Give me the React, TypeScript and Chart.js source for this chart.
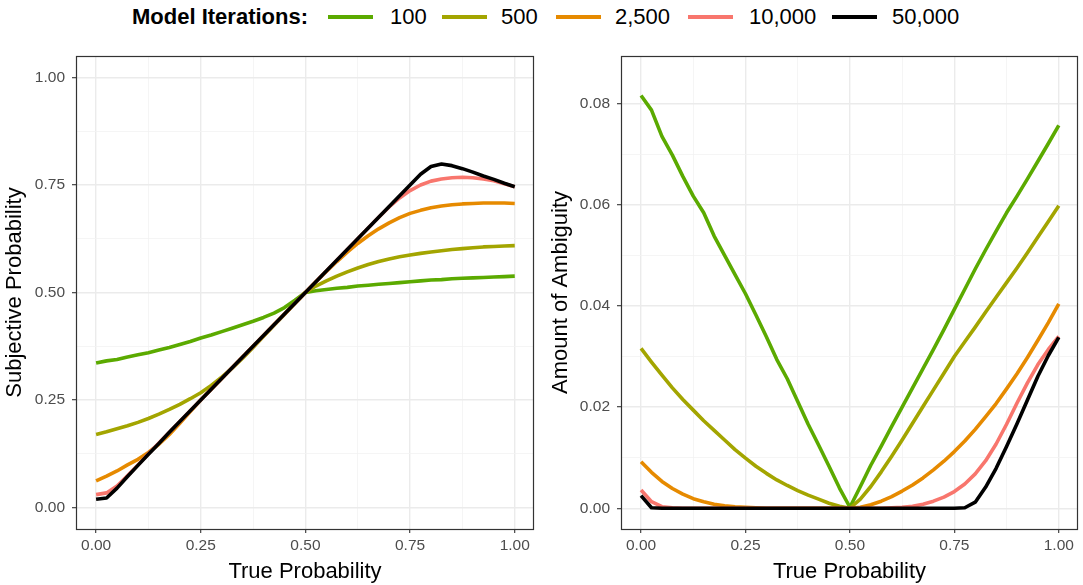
import React, { useEffect, useRef } from "react";
import { Chart, registerables } from "chart.js";

Chart.register(...registerables);

// ---------- data ----------
const trueProb = [
  0, 0.025, 0.05, 0.075, 0.1, 0.125, 0.15, 0.175, 0.2, 0.225, 0.25, 0.275, 0.3, 0.325, 0.35, 0.375, 0.4,
  0.425, 0.45, 0.475, 0.5, 0.525, 0.55, 0.575, 0.6, 0.625, 0.65, 0.675, 0.7, 0.725, 0.75, 0.775, 0.8,
  0.825, 0.85, 0.875, 0.9, 0.925, 0.95, 0.975, 1,
];

const seriesLabels = ["100", "500", "2,500", "10,000", "50,000"];
const seriesColors = ["#5BAA00", "#A3A500", "#E68A00", "#F8766D", "#000000"];

// Subjective probability (left panel)
const subj100 = [
  0.336, 0.341, 0.344, 0.35, 0.355, 0.36, 0.366, 0.372, 0.379, 0.386, 0.394, 0.401, 0.409, 0.417, 0.425,
  0.433, 0.442, 0.452, 0.465, 0.482, 0.5, 0.504, 0.507, 0.51, 0.512, 0.515, 0.517, 0.519, 0.521, 0.523,
  0.525, 0.527, 0.529, 0.53, 0.532, 0.533, 0.534, 0.535, 0.536, 0.537, 0.538,
];
const subj500 = [
  0.17, 0.176, 0.183, 0.19, 0.198, 0.207, 0.217, 0.228, 0.24, 0.253, 0.267, 0.284, 0.303, 0.324, 0.347,
  0.372, 0.398, 0.424, 0.449, 0.475, 0.5, 0.515, 0.527, 0.538, 0.548, 0.557, 0.565, 0.572, 0.578, 0.583,
  0.587, 0.591, 0.594, 0.597, 0.6, 0.602, 0.604, 0.606, 0.607, 0.608, 0.609,
];
const subj2500 = [
  0.062, 0.073, 0.085, 0.099, 0.112, 0.128, 0.147, 0.17, 0.196, 0.223, 0.25, 0.275, 0.3, 0.325, 0.35,
  0.375, 0.4, 0.425, 0.45, 0.475, 0.5, 0.525, 0.549, 0.572, 0.594, 0.614, 0.632, 0.648, 0.662, 0.674,
  0.684, 0.691, 0.697, 0.701, 0.704, 0.706, 0.707, 0.708, 0.708, 0.708, 0.707,
];
const subj10000 = [
  0.03, 0.034, 0.05, 0.074, 0.099, 0.125, 0.15, 0.175, 0.2, 0.225, 0.25, 0.275, 0.3, 0.325, 0.35,
  0.375, 0.4, 0.425, 0.45, 0.475, 0.5, 0.525, 0.55, 0.575, 0.6, 0.625, 0.65, 0.675, 0.699, 0.72,
  0.737, 0.75, 0.759, 0.764, 0.767, 0.768, 0.767, 0.764, 0.76, 0.753, 0.746,
];
const subj50000 = [
  0.019, 0.022, 0.045, 0.072, 0.098, 0.124, 0.149, 0.175, 0.2, 0.225, 0.25, 0.275, 0.3, 0.325, 0.35,
  0.375, 0.4, 0.425, 0.45, 0.475, 0.5, 0.525, 0.55, 0.575, 0.6, 0.625, 0.65, 0.675, 0.7, 0.725,
  0.75, 0.775, 0.793, 0.799, 0.795, 0.788, 0.78, 0.771, 0.763, 0.754, 0.746,
];

// Amount of ambiguity (right panel)
const amb100 = [
  0.0816, 0.0787, 0.0735, 0.0698, 0.0656, 0.0617, 0.0584, 0.0538, 0.05, 0.0462, 0.0424, 0.0382, 0.0339,
  0.0294, 0.0256, 0.0211, 0.0166, 0.0125, 0.0083, 0.004, 0.0002, 0.0043, 0.0085, 0.0123, 0.0162, 0.02,
  0.0238, 0.0276, 0.0314, 0.0353, 0.0393, 0.0433, 0.0473, 0.0511, 0.0548, 0.0584, 0.0617, 0.0651, 0.0686,
  0.0721, 0.0757,
];
const amb500 = [
  0.0316, 0.0289, 0.0263, 0.0238, 0.0215, 0.0194, 0.0173, 0.0154, 0.0135, 0.0116, 0.0099, 0.0083, 0.0069,
  0.0056, 0.0045, 0.0035, 0.0026, 0.0018, 0.001, 0.0004, 0.0, 0.0018, 0.0043, 0.0072, 0.0103, 0.0135,
  0.0168, 0.0201, 0.0234, 0.0267, 0.03, 0.0329, 0.0358, 0.0388, 0.0417, 0.0446, 0.0475, 0.0505, 0.0536,
  0.0567, 0.0598,
];
const amb2500 = [
  0.0092, 0.0071, 0.0053, 0.0039, 0.0028, 0.0019, 0.0013, 0.0008, 0.0005, 0.0003, 0.0002, 0.0001, 0.0,
  0.0, 0.0, 0.0, 0.0, 0.0, 0.0, 0.0, 0.0, 0.0002, 0.0007, 0.0014, 0.0023, 0.0034, 0.0046, 0.006, 0.0076,
  0.0093, 0.0112, 0.0133, 0.0156, 0.0181, 0.0207, 0.0236, 0.0266, 0.0298, 0.0332, 0.0367, 0.0404,
];
const amb10000 = [
  0.0036, 0.0013, 0.0003, 0.0001, 0.0, 0.0, 0.0, 0.0, 0.0, 0.0, 0.0, 0.0, 0.0, 0.0, 0.0, 0.0, 0.0, 0.0,
  0.0, 0.0, 0.0, 0.0, 0.0, 0.0, 0.0001, 0.0002, 0.0004, 0.0008, 0.0014, 0.0022, 0.0033, 0.0048, 0.0068,
  0.0094, 0.0127, 0.0166, 0.0208, 0.0248, 0.0284, 0.0314, 0.034,
];
const amb50000 = [
  0.0025, 0.0001, 0.0, 0.0, 0.0, 0.0, 0.0, 0.0, 0.0, 0.0, 0.0, 0.0, 0.0, 0.0, 0.0, 0.0, 0.0, 0.0, 0.0,
  0.0, 0.0, 0.0, 0.0, 0.0, 0.0, 0.0, 0.0, 0.0, 0.0, 0.0, 0.0, 0.0001, 0.0012, 0.0042, 0.0079, 0.0122,
  0.0167, 0.0214, 0.0261, 0.0302, 0.0338,
];

// tick positions (major + minor grid)
const xTicks = [0, 0.125, 0.25, 0.375, 0.5, 0.625, 0.75, 0.875, 1];
const xMajor = [0, 0.25, 0.5, 0.75, 1];
const leftYTicks = [0, 0.125, 0.25, 0.375, 0.5, 0.625, 0.75, 0.875, 1];
const leftYMajor = [0, 0.25, 0.5, 0.75, 1];
const rightYTicks = [0, 0.01, 0.02, 0.03, 0.04, 0.05, 0.06, 0.07, 0.08];
const rightYMajor = [0, 0.02, 0.04, 0.06, 0.08];

const FONT = "'Liberation Sans', Arial, Helvetica, sans-serif";

const isIn = (v: number | undefined, list: number[]) =>
  v !== undefined && list.some((m) => Math.abs(m - v) < 1e-9);

const panelBorder = {
  id: "panelBorder",
  afterDraw(chart: any) {
    const { ctx, chartArea } = chart;
    const { left, top, right, bottom } = chartArea;
    ctx.save();
    ctx.strokeStyle = "#333333";
    ctx.lineWidth = 1.2;
    ctx.strokeRect(Math.round(left) + 0.5, Math.round(top) + 0.5, Math.round(right - left) - 1, Math.round(bottom - top));
    ctx.restore();
  },
};

function gridFor(major: number[]) {
  return {
    color: (c: any) => (c.tick && isIn(c.tick.value, major) ? "#EBEBEB" : "#F2F2F2"),
    lineWidth: (c: any) => (c.tick && isIn(c.tick.value, major) ? 1.4 : 0.8),
    tickColor: (c: any) => (c.tick && isIn(c.tick.value, major) ? "#333333" : "rgba(0,0,0,0)"),
    tickWidth: 1.1,
    tickLength: 4,
    drawTicks: true,
    drawOnChartArea: true,
  };
}

type PanelOpts = {
  series: number[][];
  yTicks: number[];
  yMajor: number[];
  yMin: number;
  yMax: number;
  yTitle: string;
  yTitlePad: number;
  yAxisWidth: number;
  padRight: number;
};

function makeConfig(o: PanelOpts): any {
  return {
    type: "line",
    data: {
      datasets: o.series.map((d, i) => ({
        label: seriesLabels[i],
        data: trueProb.map((x, j) => ({ x, y: d[j] })),
        borderColor: seriesColors[i],
        backgroundColor: seriesColors[i],
        borderWidth: 3.6,
        pointRadius: 0,
        fill: false,
        tension: 0,
        order: 4 - i,
        borderJoinStyle: "round",
        borderCapStyle: "butt",
      })),
    },
    options: {
      responsive: false,
      animation: false,
      events: [],
      layout: { padding: { top: 56, right: o.padRight, bottom: 0, left: 0 } },
      plugins: { legend: { display: false }, tooltip: { enabled: false } },
      scales: {
        x: {
          type: "linear",
          min: -0.048,
          max: 1.046,
          afterBuildTicks: (s: any) => {
            s.ticks = xTicks.map((v) => ({ value: v }));
          },
          afterFit: (s: any) => {
            s.height = 56;
          },
          border: { display: false },
          grid: gridFor(xMajor),
          ticks: {
            autoSkip: false,
            maxRotation: 0,
            padding: 3,
            color: "#4D4D4D",
            font: { family: FONT, size: 15.5 },
            callback: (v: number) => (isIn(v, xMajor) ? v.toFixed(2) : ""),
          },
          title: {
            display: true,
            text: "True Probability",
            color: "#000000",
            font: { family: FONT, size: 22 },
            padding: { top: 0, bottom: 0 },
          },
        },
        y: {
          type: "linear",
          min: o.yMin,
          max: o.yMax,
          afterBuildTicks: (s: any) => {
            s.ticks = o.yTicks.map((v) => ({ value: v }));
          },
          afterFit: (s: any) => {
            s.width = o.yAxisWidth;
          },
          border: { display: false },
          grid: gridFor(o.yMajor),
          ticks: {
            autoSkip: false,
            padding: 7,
            color: "#4D4D4D",
            font: { family: FONT, size: 15.5 },
            callback: (v: number) => (isIn(v, o.yMajor) ? v.toFixed(2) : ""),
          },
          title: {
            display: true,
            text: o.yTitle,
            color: "#000000",
            font: { family: FONT, size: 22 },
            padding: { top: o.yTitlePad, bottom: 0 },
          },
        },
      },
    },
    plugins: [panelBorder],
  };
}

function Panel({ opts, width, left }: { opts: PanelOpts; width: number; left: number }) {
  const ref = useRef<HTMLCanvasElement | null>(null);
  useEffect(() => {
    if (!ref.current) return;
    const chart = new Chart(ref.current, makeConfig(opts));
    return () => chart.destroy();
  }, []);
  return (
    <canvas
      ref={ref}
      width={width}
      height={585}
      style={{ position: "absolute", left, top: 0, width, height: 585 }}
    />
  );
}

const legendKeyLeft = [328, 442, 556, 688, 832];
const legendLabelLeft = [390, 501, 615, 749, 892];

export default function App() {
  const leftOpts: PanelOpts = {
    series: [subj100, subj500, subj2500, subj10000, subj50000],
    yTicks: leftYTicks,
    yMajor: leftYMajor,
    yMin: -0.05,
    yMax: 1.05,
    yTitle: "Subjective Probability",
    yTitlePad: 1.5,
    yAxisWidth: 76,
    padRight: 7,
  };
  const rightOpts: PanelOpts = {
    series: [amb100, amb500, amb2500, amb10000, amb50000],
    yTicks: rightYTicks,
    yMajor: rightYMajor,
    yMin: -0.0041,
    yMax: 0.0894,
    yTitle: "Amount of Ambiguity",
    yTitlePad: 7,
    yAxisWidth: 80,
    padRight: 5,
  };
  const textStyle: React.CSSProperties = {
    position: "absolute",
    top: 4,
    fontFamily: FONT,
    fontSize: 22,
    lineHeight: "26px",
    color: "#000",
    whiteSpace: "nowrap",
  };
  return (
    <div
      style={{
        position: "fixed",
        left: 0,
        top: 0,
        width: 1083,
        height: 585,
        background: "#ffffff",
        overflow: "hidden",
      }}
    >
      <span style={{ ...textStyle, left: 132, fontWeight: "bold" }}>Model Iterations:</span>
      {seriesLabels.map((lab, i) => (
        <React.Fragment key={lab}>
          <div
            style={{
              position: "absolute",
              left: legendKeyLeft[i],
              top: 15,
              width: 45,
              height: 4,
              background: seriesColors[i],
            }}
          />
          <span style={{ ...textStyle, left: legendLabelLeft[i] }}>{lab}</span>
        </React.Fragment>
      ))}
      <Panel opts={leftOpts} width={541} left={0} />
      <Panel opts={rightOpts} width={542} left={541} />
    </div>
  );
}
